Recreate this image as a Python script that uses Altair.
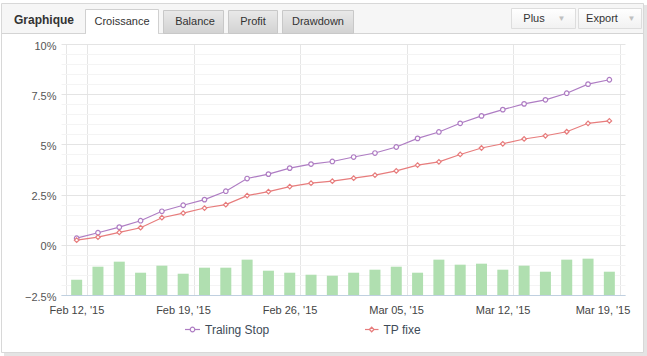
import json
import altair as alt
import pandas as pd

# ---------------- data ----------------
dates = ["2015-02-11", "2015-02-12", "2015-02-13", "2015-02-16", "2015-02-17",
         "2015-02-18", "2015-02-19", "2015-02-20", "2015-02-23", "2015-02-24",
         "2015-02-25", "2015-02-26", "2015-02-27", "2015-03-02", "2015-03-03",
         "2015-03-04", "2015-03-05", "2015-03-06", "2015-03-09", "2015-03-10",
         "2015-03-11", "2015-03-12", "2015-03-13", "2015-03-16", "2015-03-17",
         "2015-03-18"]
trailing_stop = [0.33, 0.60, 0.88, 1.20, 1.67, 1.97, 2.25, 2.67, 3.30, 3.52,
                 3.82, 4.02, 4.15, 4.37, 4.57, 4.87, 5.30, 5.62, 6.05, 6.42,
                 6.73, 7.02, 7.22, 7.55, 8.00, 8.22]
tp_fixe = [0.23, 0.38, 0.62, 0.85, 1.35, 1.58, 1.83, 2.00, 2.45, 2.65,
           2.90, 3.07, 3.17, 3.32, 3.47, 3.68, 3.97, 4.13, 4.50, 4.82,
           5.03, 5.27, 5.43, 5.63, 6.05, 6.17]
bar_values = [-1.74, -1.09, -0.84, -1.39, -1.04, -1.44, -1.14, -1.14, -0.74, -1.29,
              -1.39, -1.49, -1.54, -1.39, -1.24, -1.09, -1.39, -0.74, -0.99, -0.94,
              -1.24, -1.04, -1.34, -0.74, -0.69, -1.34]
series_names = ["Traling Stop", "TP fixe"]
tick_labels = ["Feb 12, '15", "Feb 19, '15", "Feb 26, '15", "Mar 05, '15",
               "Mar 12, '15", "Mar 19, '15"]
tab_labels = ["Croissance", "Balance", "Profit", "Drawdown"]
header_title = "Graphique"
button_labels = ["Plus", "Export"]

# ---------------- styling ----------------
PURPLE = "#ae7cc3"
RED = "#e77c7c"
GREEN = "#b0dfb0"
FONT = "Liberation Sans"
L, T = 61, 44          # plot origin in page pixels
W, H = 564, 251

n = len(dates)
idx = list(range(n))
bars_df = pd.DataFrame({"i": idx, "date": dates, "v": bar_values})
lines_df = pd.DataFrame({
    "i": idx + idx,
    "date": dates + dates,
    "v": trailing_stop + tp_fixe,
    "series": [series_names[0]] * n + [series_names[1]] * n,
})

x_ticks = [-0.5] + [0.5 + 5 * k for k in range(len(tick_labels))]
y_ticks = [k / 2 for k in range(-5, 21)]

label_js = json.dumps(tick_labels)
x_scale = alt.Scale(domain=[-0.5, n - 0.5], nice=False, zero=False)
y_scale = alt.Scale(domain=[-2.5, 10], nice=False, zero=False)

x_axis = alt.Axis(
    values=x_ticks, title=None, ticks=False, tickSize=0,
    labelExpr=f"datum.value < 0 ? '' : {label_js}[round((datum.value - 0.5) / 5)]",
    labelFlush=False, labelOverlap=False,
    labelOffset={"condition": {"test": "datum.value > 25", "value": -17.5}, "value": -10.85},
    labelPadding=9, labelFont=FONT, labelFontSize=11, labelColor="#444444",
    grid=True, gridColor="#e6e6e6", gridWidth=1,
    domainColor="#c0d0e0", domainWidth=1,
)
y_axis = alt.Axis(
    values=y_ticks, title=None, ticks=False, tickSize=0, domain=False,
    labelExpr="abs(datum.value % 2.5) < 0.001 ? (datum.value < 0 ? '\u2212' : '') + abs(datum.value) + '%' : ''",
    labelOverlap=False, labelPadding=5, labelOffset=2,
    labelFont=FONT, labelFontSize=11, labelColor="#555555",
    grid=True,
    gridColor={"condition": {"test": "abs(datum.value % 2.5) < 0.001", "value": "#e4e4e4"},
               "value": "#f4f4f4"},
)

bars = alt.Chart(bars_df).mark_bar(size=11, color=GREEN).encode(
    x=alt.X("i:Q", scale=x_scale, axis=x_axis),
    y=alt.Y("v:Q", scale=y_scale, axis=y_axis),
    y2=alt.datum(-2.5),
)

color_scale = alt.Scale(domain=series_names, range=[PURPLE, RED])
lines = alt.Chart(lines_df).mark_line(strokeWidth=1.15).encode(
    x=alt.X("i:Q", scale=x_scale, axis=x_axis),
    y=alt.Y("v:Q", scale=y_scale, axis=y_axis),
    color=alt.Color("series:N", scale=color_scale, legend=None),
)
points = alt.Chart(lines_df).mark_point(filled=True, fill="white", size=21, strokeWidth=1.2, opacity=1).encode(
    x=alt.X("i:Q", scale=x_scale, axis=x_axis),
    y=alt.Y("v:Q", scale=y_scale, axis=y_axis),
    stroke=alt.Stroke("series:N", scale=color_scale, legend=None),
    shape=alt.Shape("series:N", scale=alt.Scale(domain=series_names, range=["circle", "diamond"]), legend=None),
)

ONE = pd.DataFrame({"k": [0]})


def rect(x1, x2, y1, y2, **kw):
    return alt.Chart(ONE).mark_rect(**kw).encode(
        x=alt.value(x1 - L), x2=alt.value(x2 - L), y=alt.value(y1 - T), y2=alt.value(y2 - T))


def hline(x1, x2, y, color, width=1):
    return alt.Chart(ONE).mark_rule(color=color, strokeWidth=width).encode(
        x=alt.value(x1 - L), x2=alt.value(x2 - L), y=alt.value(y - T))


def label(x, y, s, **kw):
    base = dict(font=FONT, fontSize=11, color="#333333", baseline="middle", align="center")
    base.update(kw)
    return alt.Chart(ONE).mark_text(text=s, **base).encode(x=alt.value(x - L), y=alt.value(y - T))


tab_grad = alt.Gradient(gradient="linear", x1=0, y1=0, x2=0, y2=1,
                        stops=[alt.GradientStop(color="#e9e9e9", offset=0),
                               alt.GradientStop(color="#d2d2d2", offset=1)])
btn_grad = alt.Gradient(gradient="linear", x1=0, y1=0, x2=0, y2=1,
                        stops=[alt.GradientStop(color="#ffffff", offset=0),
                               alt.GradientStop(color="#f1f1f1", offset=1)])

chrome = [
    # shadows
    rect(4, 647, 352.5, 356, color="#e4e4e4"),
    rect(643.5, 647, 5, 356, color="#e4e4e4"),
    # header bar
    rect(2, 644, 3, 33, color="#f6f6f6"),
    # outer border
    rect(1.5, 643.5, 3.5, 352.5, fillOpacity=0, stroke="#d8d8d8", strokeWidth=1),
    hline(2, 643, 33.5, "#d4d4d4"),
    # inactive tabs
    rect(163.5, 223.5, 10.5, 33.5, fill=tab_grad, stroke="#c8c8c8", strokeWidth=1),
    rect(228.5, 277.5, 10.5, 33.5, fill=tab_grad, stroke="#c8c8c8", strokeWidth=1),
    rect(282.5, 353.5, 10.5, 33.5, fill=tab_grad, stroke="#c8c8c8", strokeWidth=1),
    # active tab
    rect(85.5, 158.5, 9.5, 33.5, color="white", stroke="#d0d0d0", strokeWidth=1),
    hline(86, 158, 33.5, "white", 1.5),
    # buttons
    rect(511.5, 575.5, 8.5, 28.5, fill=btn_grad, stroke="#dddddd", strokeWidth=1),
    rect(578.5, 641.5, 8.5, 28.5, fill=btn_grad, stroke="#dddddd", strokeWidth=1),
    # texts
    label(14, 20, header_title, fontWeight="bold", fontSize=12, align="left"),
    label(122, 21.5, tab_labels[0]),
    label(195, 22, tab_labels[1]),
    label(253, 22, tab_labels[2]),
    label(318, 22, tab_labels[3]),
    label(534, 18.5, button_labels[0]),
    label(602, 18.5, button_labels[1]),
    label(561.5, 18.5, "\u25bc", fontSize=8, color="#c0c0c0"),
    label(631.5, 18.5, "\u25bc", fontSize=8, color="#c0c0c0"),
]

# legend
legend = [
    hline(185, 200, 329.5, PURPLE, 1.2),
    alt.Chart(ONE).mark_point(shape="circle", filled=True, fill="white", stroke=PURPLE,
                              strokeWidth=1.2, size=21, opacity=1).encode(
        x=alt.value(192.5 - L), y=alt.value(329.5 - T)),
    label(205, 329.5, series_names[0], align="left", fontSize=12, color="#3e4b58"),
    hline(365, 378.5, 329.5, RED, 1.2),
    alt.Chart(ONE).mark_point(shape="diamond", filled=True, fill="white", stroke=RED,
                              strokeWidth=1.2, size=21, opacity=1).encode(
        x=alt.value(371.7 - L), y=alt.value(329.5 - T)),
    label(383.5, 329.5, series_names[1], align="left", fontSize=12, color="#3e4b58"),
]

chart = alt.layer(*chrome, bars, lines, points, *legend).properties(
    width=W, height=H,
    autosize=alt.AutoSizeParams(type="none"),
    padding={"left": L, "top": T, "right": 647 - L - W, "bottom": 356 - T - H},
    background="white",
).configure_view(stroke=None)

chart.save("out.html", embed_options={"renderer": "svg", "actions": False})
